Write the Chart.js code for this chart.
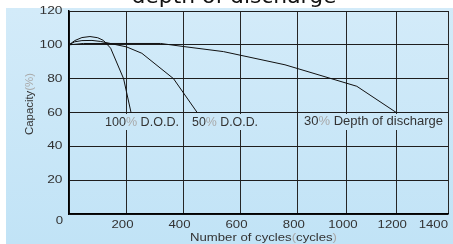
<!DOCTYPE html>
<html>
<head>
<meta charset="utf-8">
<script src="https://cdn.jsdelivr.net/npm/chart.js@4/dist/chart.umd.min.js"></script>
<style>
  html, body { margin: 0; padding: 0; background: #fff; }
  canvas { display: block; }
</style>
</head>
<body>
<canvas id="myChart" width="453" height="244"></canvas>
<script>
// cycles / capacity
const cycles100 = [0, 20, 45, 73, 100, 120, 145, 190, 216];
const capacity100 = [100, 102.5, 104.3, 104.9, 104.2, 102.6, 98, 80, 60];

const cycles50 = [0, 20, 45, 80, 110, 200, 254, 365, 448];
const capacity50 = [100, 101.8, 102.5, 102.6, 102, 98.8, 95, 80, 60];

const cycles30 = [0, 50, 320, 400, 540, 755, 1040, 1200];
const capacity30 = [100, 100.8, 100.8, 99, 96, 88.2, 75.5, 60];

const xTicks = [200, 400, 600, 800, 1000, 1200, 1400];
const yTicks = [20, 40, 60, 80, 100, 120];

// the original grid is not evenly spaced, keep that
const xGridStops = [[0, 0], [200, 0.1516], [400, 0.3021], [600, 0.4526], [800, 0.6039],
                    [1000, 0.7333], [1200, 0.8635], [1400, 1]];

class UnevenScale extends Chart.LinearScale {
  toDecimal(value) {
    const s = xGridStops;
    for (let i = 1; i < s.length; i++) {
      if (value <= s[i][0] || i === s.length - 1) {
        const [v0, f0] = s[i - 1], [v1, f1] = s[i];
        return f0 + (value - v0) / (v1 - v0) * (f1 - f0);
      }
    }
  }
  getPixelForValue(value) {
    return value === null ? NaN : this.getPixelForDecimal(this.toDecimal(value));
  }
  getValueForPixel(pixel) {
    const d = this.getDecimalForPixel(pixel);
    const s = xGridStops;
    for (let i = 1; i < s.length; i++) {
      if (d <= s[i][1] || i === s.length - 1) {
        const [v0, f0] = s[i - 1], [v1, f1] = s[i];
        return v0 + (d - f0) / (f1 - f0) * (v1 - v0);
      }
    }
  }
}
UnevenScale.id = 'uneven';
UnevenScale.defaults = Chart.LinearScale.defaults;
Chart.register(UnevenScale);

const dark = '#333';
const grey = '#a9a9a9';

// draws coloured pieces of text, stretched to a width if asked
function drawSegs(ctx, segs, x, y, o) {
  ctx.save();
  ctx.font = o.font;
  const natural = segs.reduce((w, s) => w + ctx.measureText(s[0]).width, 0);
  const sx = o.width ? o.width / natural : (o.stretch || 1);
  const total = natural * sx;
  let start = x;
  if (o.align === 'center') start = x - total / 2;
  if (o.align === 'right') start = x - total;
  ctx.translate(start, y);
  ctx.scale(sx, 1);
  ctx.textAlign = 'left';
  ctx.textBaseline = o.baseline || 'middle';
  let cx = 0;
  segs.forEach(s => {
    ctx.fillStyle = s[1];
    ctx.fillText(s[0], cx, 0);
    cx += ctx.measureText(s[0]).width;
  });
  ctx.restore();
}

let bgGrad = null;

const decorPlugin = {
  id: 'decor',
  beforeDraw(chart) {
    const ctx = chart.ctx;
    ctx.save();
    ctx.fillStyle = '#fff';
    ctx.fillRect(0, 0, chart.width, chart.height);
    bgGrad = ctx.createLinearGradient(0, 8, 0, chart.height);
    bgGrad.addColorStop(0, '#d3ebf9');
    bgGrad.addColorStop(1, '#c1e3f6');
    ctx.fillStyle = bgGrad;
    ctx.fillRect(6, 8, chart.width - 6, chart.height - 8);
    ctx.restore();
  },
  afterDraw(chart) {
    const ctx = chart.ctx;
    const xs = chart.scales.x, ys = chart.scales.y;
    const area = chart.chartArea;

    // curve labels sit on boxes that hide the grid
    ctx.save();
    ctx.fillStyle = bgGrad;
    ctx.fillRect(101, 114, 80, 16);
    ctx.fillRect(187, 114, 75, 16);
    ctx.fillRect(301, 114, 145, 16);
    ctx.restore();
    const lf = '12px "Liberation Sans", Arial, sans-serif';
    drawSegs(ctx, [['100', dark], ['%', grey], [' D.O.D.', dark]], 105, 122.5, {font: lf, width: 74});
    drawSegs(ctx, [['50', dark], ['%', grey], [' D.O.D.', dark]], 192, 122.5, {font: lf, width: 66});
    drawSegs(ctx, [['30', dark], ['%', grey], [' Depth of discharge', dark]], 304, 122, {font: lf, width: 139});

    // tick labels
    const tf = '11px "Liberation Sans", Arial, sans-serif';
    xTicks.forEach((v, i) => {
      const px = xs.getPixelForValue(v);
      const last = i === xTicks.length - 1;
      drawSegs(ctx, [[String(v), dark]], last ? px : px - 4, area.bottom + 11,
        {font: tf, stretch: 1.2, align: last ? 'right' : 'center'});
    });
    yTicks.forEach(v => {
      drawSegs(ctx, [[String(v), dark]], area.left - 6.5, ys.getPixelForValue(v),
        {font: tf, stretch: 1.25, align: 'right'});
    });
    drawSegs(ctx, [['0', dark]], area.left - 6, ys.getPixelForValue(0) + 7,
      {font: tf, stretch: 1.2, align: 'right'});

    // axis titles
    drawSegs(ctx, [['Number of cycles', dark], ['(', grey], ['cycles', dark], [')', grey]],
      263.5, 238, {font: '11px "Liberation Sans", Arial, sans-serif', width: 147, align: 'center'});
    ctx.save();
    ctx.translate(30, 104);
    ctx.rotate(-Math.PI / 2);
    drawSegs(ctx, [['Capacity', dark], ['(%)', grey]], 0, 0,
      {font: '10.5px "Liberation Sans", Arial, sans-serif', width: 62, align: 'center'});
    ctx.restore();

    // title, mostly above the top edge
    drawSegs(ctx, [['depth of discharge', '#111']], 234, 3,
      {font: '22px "DejaVu Sans", sans-serif', width: 205, align: 'center', baseline: 'alphabetic'});
  }
};

function toPoints(xs, ys) {
  return xs.map((x, i) => ({x: x, y: ys[i]}));
}

function lineSet(label, xs, ys) {
  return {
    label: label,
    data: toPoints(xs, ys),
    borderColor: '#111',
    borderWidth: 1,
    pointRadius: 0,
    tension: 0,
    fill: false
  };
}

const ctx = document.getElementById('myChart').getContext('2d');
const myChart = new Chart(ctx, {
  type: 'line',
  data: {
    datasets: [
      lineSet('100% D.O.D.', cycles100, capacity100),
      lineSet('50% D.O.D.', cycles50, capacity50),
      lineSet('30% Depth of discharge', cycles30, capacity30)
    ]
  },
  options: {
    responsive: false,
    animation: false,
    layout: { padding: { top: 11, right: 5, left: 0, bottom: 0 } },
    plugins: {
      legend: { display: false },
      tooltip: { enabled: false }
    },
    scales: {
      x: {
        type: 'uneven',
        min: 0,
        max: 1400,
        ticks: { display: false, stepSize: 200 },
        grid: { color: '#262626', lineWidth: 1, drawTicks: false },
        border: { display: true, color: '#000', width: 1.5 },
        afterFit: (scale) => { scale.height = 30; }
      },
      y: {
        min: 0,
        max: 120,
        ticks: { display: false, stepSize: 20 },
        grid: { color: '#1e1e1e', lineWidth: 1, drawTicks: false },
        border: { display: true, color: '#000', width: 1.5 },
        afterFit: (scale) => { scale.width = 69; }
      }
    }
  },
  plugins: [decorPlugin]
});
</script>
</body>
</html>
